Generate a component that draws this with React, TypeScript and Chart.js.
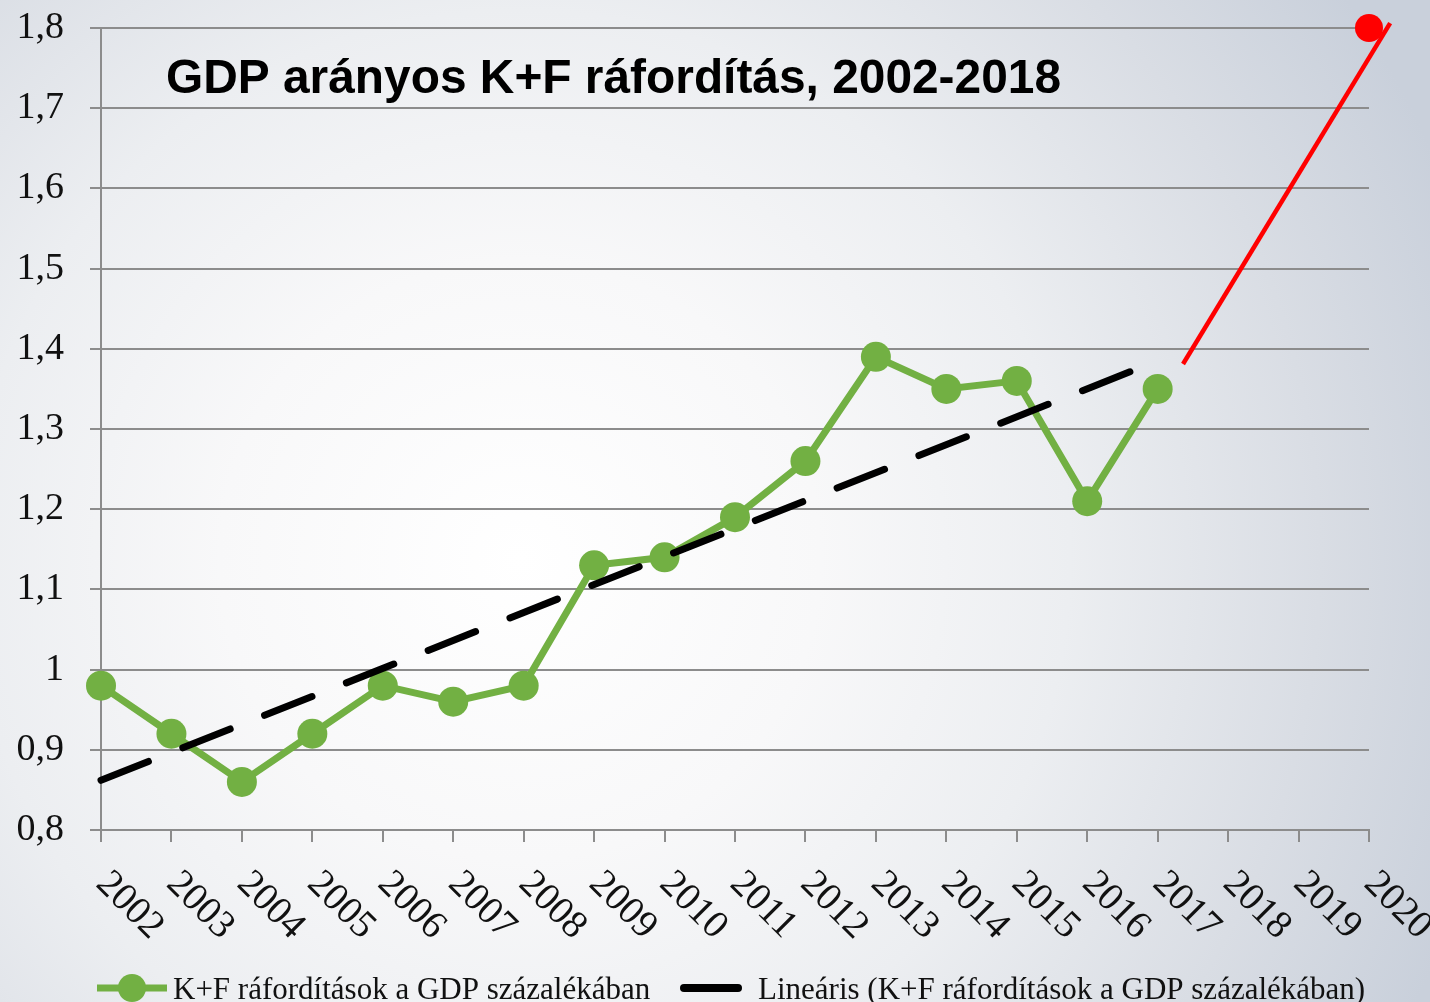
import React, { useEffect, useRef } from "react";
import { Chart, registerables } from "chart.js";

Chart.register(...registerables);

const years = ["2002","2003","2004","2005","2006","2007","2008","2009","2010","2011","2012","2013","2014","2015","2016","2017","2018","2019","2020"];
const kfValues = [0.98, 0.92, 0.86, 0.92, 0.98, 0.96, 0.98, 1.13, 1.14, 1.19, 1.26, 1.39, 1.35, 1.36, 1.21, 1.35];
const trendX = [0, 15];
const trendY = [0.862, 1.385];
const targetLineX = [15.36, 18.3];
const targetLineY = [1.381, 1.806];
const targetPointX = [18];
const targetPointY = [1.8];
const yTickLabels = ["0,8","0,9","1","1,1","1,2","1,3","1,4","1,5","1,6","1,7","1,8"];
const titleText = "GDP arányos K+F ráfordítás, 2002-2018";
const legendLabels = ["K+F ráfordítások a GDP százalékában", "Lineáris (K+F ráfordítások a GDP százalékában)"];

const GREEN = "#72B043";
const GRID = "#8c8c8c";
const SERIF = "'Liberation Serif', 'Times New Roman', serif";

const bgPlugin = {
  id: "bg",
  beforeDraw(chart: any) {
    const { ctx, width, height } = chart;
    ctx.save();
    const g = ctx.createRadialGradient(520, 560, 0, 520, 560, 1000);
    g.addColorStop(0, "#ffffff");
    g.addColorStop(0.3, "#f8f8f9");
    g.addColorStop(0.55, "#eceef1");
    g.addColorStop(0.8, "#d9dde4");
    g.addColorStop(1, "#c9d0db");
    ctx.fillStyle = g;
    ctx.fillRect(0, 0, width, height);
    ctx.restore();
  },
};

const overlayPlugin = {
  id: "overlay",
  afterDraw(chart: any) {
    const { ctx } = chart;
    const xs = chart.scales.x;
    // rotated x labels
    ctx.save();
    ctx.fillStyle = "#111";
    ctx.font = `39px ${SERIF}`;
    ctx.textAlign = "left";
    ctx.textBaseline = "middle";
    years.forEach((y, i) => {
      const px = xs.getPixelForValue(i);
      ctx.save();
      ctx.translate(px + 1, 878);
      ctx.rotate(Math.PI / 4);
      ctx.fillText(y, 0, 0);
      ctx.restore();
    });
    ctx.restore();

    // title
    ctx.save();
    ctx.fillStyle = "#000";
    ctx.font = "bold 48px 'Liberation Sans', Arial, sans-serif";
    ctx.textBaseline = "middle";
    ctx.textAlign = "left";
    const w = ctx.measureText(titleText).width;
    const target = 895;
    ctx.translate(166, 80);
    ctx.scale(target / w, 1);
    ctx.fillText(titleText, 0, 0);
    ctx.restore();

    // legend
    ctx.save();
    ctx.lineCap = "butt";
    ctx.strokeStyle = GREEN;
    ctx.lineWidth = 7;
    ctx.beginPath();
    ctx.moveTo(97, 988);
    ctx.lineTo(167, 988);
    ctx.stroke();
    ctx.fillStyle = GREEN;
    ctx.beginPath();
    ctx.arc(132, 988, 14, 0, Math.PI * 2);
    ctx.fill();
    ctx.strokeStyle = "#000";
    ctx.lineWidth = 8;
    ctx.lineCap = "round";
    ctx.beginPath();
    ctx.moveTo(684, 988);
    ctx.lineTo(738, 988);
    ctx.stroke();
    ctx.fillStyle = "#111";
    ctx.font = `31px ${SERIF}`;
    ctx.textBaseline = "alphabetic";
    ctx.textAlign = "left";
    ctx.fillText(legendLabels[0], 173, 999);
    ctx.fillText(legendLabels[1], 758, 999);
    ctx.restore();
  },
};

export default function App() {
  const ref = useRef<HTMLCanvasElement | null>(null);
  useEffect(() => {
    if (!ref.current) return;
    const chart = new Chart(ref.current, {
      type: "line",
      data: {
        datasets: [
          {
            label: legendLabels[1],
            data: trendX.map((x, i) => ({ x, y: trendY[i] })),
            borderColor: "#000",
            borderWidth: 7,
            borderDash: [51, 37],
            borderCapStyle: "round",
            pointRadius: 0,
            clip: false,
            order: 0,
          },
          {
            label: legendLabels[0],
            data: kfValues.map((v, i) => ({ x: i, y: v })),
            borderColor: GREEN,
            backgroundColor: GREEN,
            borderWidth: 7,
            pointRadius: 15,
            pointBorderWidth: 0,
            pointBackgroundColor: GREEN,
            clip: false,
            order: 1,
          },
          {
            label: "target line",
            data: targetLineX.map((x, i) => ({ x, y: targetLineY[i] })),
            borderColor: "#ff0000",
            borderWidth: 4.5,
            pointRadius: 0,
            clip: false,
            order: 2,
          },
          {
            label: "target",
            data: targetPointX.map((x, i) => ({ x, y: targetPointY[i] })),
            showLine: false,
            pointRadius: 14,
            pointBorderWidth: 0,
            pointBackgroundColor: "#ff0000",
            backgroundColor: "#ff0000",
            clip: false,
            order: 2,
          },
        ],
      } as any,
      options: {
        animation: false,
        responsive: false,
        maintainAspectRatio: false,
        layout: { padding: { top: 28, right: 61, bottom: 160, left: 0 } },
        plugins: { legend: { display: false }, tooltip: { enabled: false }, title: { display: false } },
        scales: {
          x: {
            type: "linear",
            min: 0,
            max: 18,
            ticks: { display: false, stepSize: 1 },
            grid: { display: true, drawOnChartArea: false, drawTicks: true, tickLength: 12, color: GRID, lineWidth: 2 },
            border: { display: true, color: GRID, width: 2 },
            afterFit: (s: any) => { s.height = 12; s.paddingLeft = 0; s.paddingRight = 0; },
          },
          y: {
            type: "linear",
            min: 0.8,
            max: 1.8,
            ticks: {
              stepSize: 0.1,
              padding: 26,
              color: "#111",
              font: { family: SERIF, size: 38 },
              callback: (v: any) => yTickLabels[Math.round((Number(v) - 0.8) * 10)],
            },
            grid: { color: GRID, lineWidth: 2, tickLength: 11 },
            border: { display: true, color: GRID, width: 2 },
            afterFit: (s: any) => { s.width = 101; s.paddingTop = 0; s.paddingBottom = 0; },
          },
        },
      } as any,
      plugins: [bgPlugin, overlayPlugin],
    });
    return () => chart.destroy();
  }, []);
  return (
    <div style={{ position: "absolute", left: 0, top: 0, width: 1430, height: 1002 }}>
      <canvas ref={ref} width={1430} height={1002} />
    </div>
  );
}
